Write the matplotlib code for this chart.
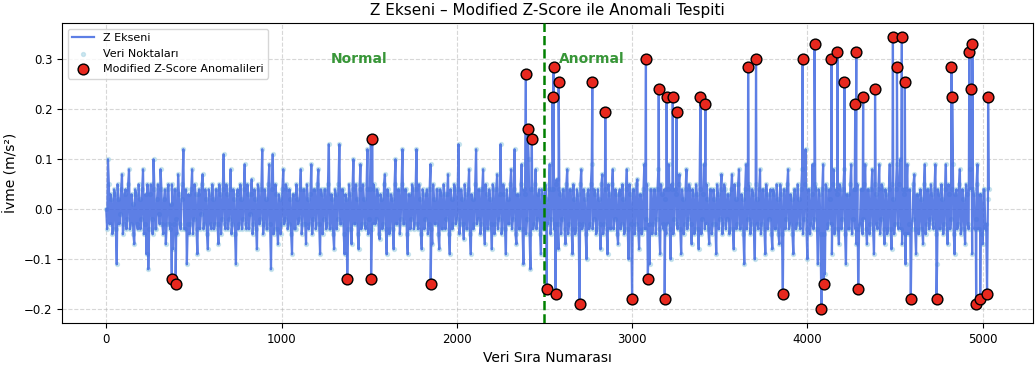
import numpy as np
import matplotlib.pyplot as plt

plt.rcParams['path.simplify'] = False

# sinyal (her 10 örnekte bir okunan değerler, 0.01 m/s² biriminde)
adim = 10
z_sinyal = [
    0, 10, -3, 2, -4, 3, -11, 2, -1, 7, -3, 4, -2, 8, -3, 1, -7, 3, -4, 2, -2, 8, -3, -9,
    -12, 3, -2, 10, -4, 2, -1, 8, -3, 2, -7, 4, -3, 1, -8, 4, -2, 7, -3, 2, 12, -4, -11, 3,
    -3, 8, -2, 3, -9, 4, -1, 7, -3, 2, -8, 3, -4, 2, -3, 4, -7, 3, -2, 11, -4, 3, -2, 8,
    -3, 2, -11, 4, -3, 2, -2, 9, -4, 3, -1, 6, -3, 2, -8, 4, -2, 12, -3, 2, -4, 9, -12, 11,
    -4, 3, -7, 2, -3, 8, -2, 4, -3, 2, -9, 3, -4, 2, -2, 8, -3, 4, -7, 2, -3, 9, -2, 4,
    -3, 8, -9, 3, -2, 4, -3, 13, -4, 2, -8, 3, -2, 13, -3, 4, -9, 2, -4, 3, -7, 10, -3, 2,
    -8, 9, -3, 2, -4, 12, -2, 13, -3, 4, -2, 3, -6, 2, -3, 7, -9, 3, -4, 2, -8, 10, -3, 4,
    -2, 12, -3, 4, -9, 3, -2, 4, -3, 12, -4, 2, -8, 3, -2, 4, -3, 9, -7, 2, -3, 4, -8, 3,
    -4, 3, -2, 7, -9, 2, -3, 4, -2, 13, -3, 2, -6, 3, -4, 8, -9, 2, -3, 12, -2, 4, -3, 8,
    -7, 3, -4, 2, -8, 4, -3, 7, -2, 13, -4, 3, -9, 2, -3, 8, -2, 12, -7, 3, -4, 9, -11, 3,
    -2, 10, -12, 4, -3, 8, -2, 4, -9, 3, -4, 2, -3, 9, -2, 4, -3, 6, -8, 3, -2, 4, -7, 8,
    -3, 4, -9, 2, -4, 3, -2, 8, -3, 2, -10, 4, -3, 9, -2, 3, -4, 2, -8, 7, -3, 4, -9, 3,
    -4, 8, -2, 3, -7, 4, -3, 2, -4, 8, -10, 3, -2, 4, -3, 6, -8, 3, -4, 9, -2, 3, -11, 4,
    -3, 4, -2, 8, -9, 3, -4, 2, -3, 9, -10, 4, -2, 3, -4, 7, -9, 2, -3, 8, -2, 4, -7, 3,
    -4, 3, -8, 4, -2, 9, -3, 2, -7, 4, -3, 2, -9, 3, -2, 7, -3, 4, -2, 3, -4, 7, -8, 2,
    -3, 8, -4, 2, -11, 9, -2, 4, -3, 3, -10, 2, -4, 8, -3, 4, -9, 3, -2, 4, -8, 3, -4, 2,
    -7, 3, -14, 4, -2, 8, -3, 2, -9, 4, -3, 2, -4, 8, -2, 12, -10, 4, -3, 9, -2, 4, -11, 3,
    -4, 9, -13, 4, -3, 2, -9, 8, -4, 3, -7, 4, -2, 8, -11, 3, -4, 9, -2, 4, -7, 9, -3, 4,
    -2, 9, -7, 4, -3, 8, -9, 3, -4, 9, -2, 4, -7, 3, -4, 9, -8, 2, -3, 9, -4, 10, -7, 3,
    -11, 9, -3, 4, -2, 7, -9, 3, -4, 2, -7, 9, -3, 4, -2, 3, -4, 9, -11, 3, -4, 2, -3, 9,
    -7, 3, -2, 9, -9, 4, -3, 8, -4, 2, -7, 3, -4, 8, -9, 3, -2, 9, -4, 3, -7, 4, -3, 2,
]
# ara değerler (5, 15, 25 ... sıra numaralarında)
z_ara = [
    -4, 5, 3, -5, 4, -4, 5, -3, 4, -5, 3, -4, 5, -4, 3, -5, 4, -3, 5, -4, 4, -5, 3, 5,
    -4, 5, -5, 4, -4, 5, -3, 4, -5, 4, -3, 5, -4, 5, -3, 4, -5, 3, -4, 5, -4, 4, -3, -5,
    4, -5, 5, -4, 3, -4, 5, -4, 4, -5, 4, -3, 5, -4, 4, -3, 5, -5, 4, -3, 5, -4, 4, -5,
    4, -5, 3, -4, 5, -4, 4, -3, 5, -4, 3, -5, 4, -4, 5, -3, 4, -5, 4, -4, 5, -3, 4, -5,
    5, -4, 3, -5, 4, -3, 5, -4, 4, -5, 3, -4, 5, -3, 4, -5, 4, -3, 5, -4, 3, -5, 4, -4,
    5, -3, 4, -5, 4, -4, 5, -4, 3, -5, 4, -4, 5, -3, 4, -5, 3, -4, 5, -4, 4, -3, 5, -5,
    4, -4, 5, -3, 4, -5, 4, -4, 5, -3, 4, -5, 3, -4, 5, -4, 4, -5, 3, -4, 5, -3, 4, -5,
    5, -3, 4, -5, 3, -4, 5, -4, 4, -3, 5, -5, 4, -4, 3, -5, 4, -4, 5, -3, 4, -5, 4, -4,
    5, -4, 3, -5, 4, -4, 5, -3, 4, -5, 4, -3, 5, -4, 4, -5, 3, -4, 5, -3, 4, -5, 4, -4,
    5, -4, 4, -3, 5, -5, 4, -4, 3, -5, 5, -4, 4, -3, 5, -4, 4, -5, 3, -4, 5, -4, 4, -5,
    5, -5, 4, -4, 5, -4, 3, -5, 4, -4, 5, -3, 4, -5, 4, -4, 5, -3, 4, -5, 4, -4, 5, -5,
    4, -4, 5, -5, 4, -3, 5, -4, 4, -5, 3, -4, 5, -4, 4, -5, 4, -3, 5, -5, 4, -4, 5, -4,
    5, -4, 4, -5, 3, -4, 5, -5, 4, -4, 5, -3, 4, -5, 5, -4, 3, -5, 4, -4, 5, -3, 4, -5,
    4, -5, 4, -4, 5, -3, 4, -5, 4, -4, 5, -5, 4, -3, 5, -4, 4, -5, 4, -4, 5, -3, 4, -5,
    5, -4, 4, -5, 3, -4, 5, -4, 4, -5, 4, -3, 5, -4, 4, -5, 5, -4, 3, -5, 4, -4, 5, -4,
    5, -4, 3, -5, 4, -4, 5, -5, 4, -4, 5, -3, 4, -5, 4, -4, 5, -4, 3, -5, 4, -4, 5, -5,
    5, -5, 4, -4, 5, -4, 3, -5, 4, -4, 5, -3, 4, -5, 5, -4, 4, -5, 3, -4, 5, -4, 4, -5,
    4, -5, 5, -4, 4, -3, 5, -5, 4, -4, 5, -4, 4, -5, 3, -4, 5, -5, 4, -4, 5, -4, 4, -5,
    5, -4, 4, -5, 4, -4, 5, -3, 4, -5, 5, -4, 4, -5, 4, -4, 5, -5, 4, -3, 5, -4, 4, -5,
    4, -5, 4, -4, 5, -4, 3, -5, 4, -4, 5, -5, 4, -4, 5, -3, 4, -5, 4, -4, 5, -5, 4, -4,
    5, -4, 4, -5, 3, -4, 5, -5, 4, -4, 5, -3, 4, -5, 4, -4, 5, -4, 3, -5, 4, -4, 5, 4,
]

# anomali noktaları (sıra numarası, ivme)
anomali_idx = [374, 396, 1375, 1511, 1517, 1851,
               2394, 2405, 2428, 2513, 2546, 2552, 2564, 2581,
               2700, 2773, 2847, 3000, 3079, 3090,
               3152, 3186, 3197, 3232, 3254, 3390, 3418,
               3662, 3707, 3860, 3973, 4041, 4080, 4092,
               4137, 4171, 4211, 4273, 4279, 4290, 4318, 4386,
               4488, 4511, 4539, 4556, 4590, 4737,
               4822, 4826, 4924, 4935, 4941, 4963, 4986, 5025, 5031]
anomali_val = [-0.14, -0.15, -0.14, -0.14, 0.14, -0.15,
               0.27, 0.16, 0.14, -0.16, 0.225, 0.285, -0.17, 0.255,
               -0.19, 0.255, 0.195, -0.18, 0.30, -0.14,
               0.24, -0.18, 0.225, 0.225, 0.195, 0.225, 0.21,
               0.285, 0.30, -0.17, 0.30, 0.33, -0.20, -0.15,
               0.30, 0.315, 0.255, 0.21, 0.315, -0.16, 0.225, 0.24,
               0.345, 0.285, 0.345, 0.255, -0.18, -0.18,
               0.285, 0.225, 0.315, 0.24, 0.33, -0.19, -0.18, -0.17, 0.225]

ayrim = 2500  # normal / anormal sınırı

# seriyi birleştir
x_s = np.concatenate([np.arange(len(z_sinyal)) * adim,
                      np.arange(len(z_ara)) * adim + adim // 2])
y_s = np.concatenate([z_sinyal, z_ara]) / 100.0
maske = ~np.isin(x_s, anomali_idx)
x = np.concatenate([x_s[maske], anomali_idx])
y = np.concatenate([y_s[maske], anomali_val])
sira = np.argsort(x)
x, y = x[sira], y[sira]

fig, ax = plt.subplots(figsize=(10.35, 3.67), dpi=100)
fig.subplots_adjust(left=0.06, right=0.998, bottom=0.12, top=0.937)

ax.plot(x, y, color='royalblue', lw=1.6, alpha=0.85, zorder=3, label='Z Ekseni')
ax.scatter(x, y, s=8, color='lightblue', alpha=0.6, zorder=2, label='Veri Noktaları')
ax.scatter(anomali_idx, anomali_val, s=60, color='#e8281e', edgecolor='black',
           linewidth=1, zorder=5, label='Modified Z-Score Anomalileri')

ax.axvline(ayrim, color='green', ls='--', lw=1.8, zorder=4)
ax.text(1440, 0.30, 'Normal', color='forestgreen', fontsize=10, fontweight='bold',
        ha='center', va='center', alpha=0.9)
ax.text(2770, 0.30, 'Anormal', color='forestgreen', fontsize=10, fontweight='bold',
        ha='center', va='center', alpha=0.9)

ax.set_title('Z Ekseni – Modified Z-Score ile Anomali Tespiti', fontsize=11)
ax.set_xlabel('Veri Sıra Numarası', fontsize=10)
ax.set_ylabel('İvme (m/s²)', fontsize=10)
ax.tick_params(labelsize=8.5)
ax.grid(True, ls='--', alpha=0.5)
ax.legend(loc='upper left', fontsize=8)

plt.savefig('out.png')
